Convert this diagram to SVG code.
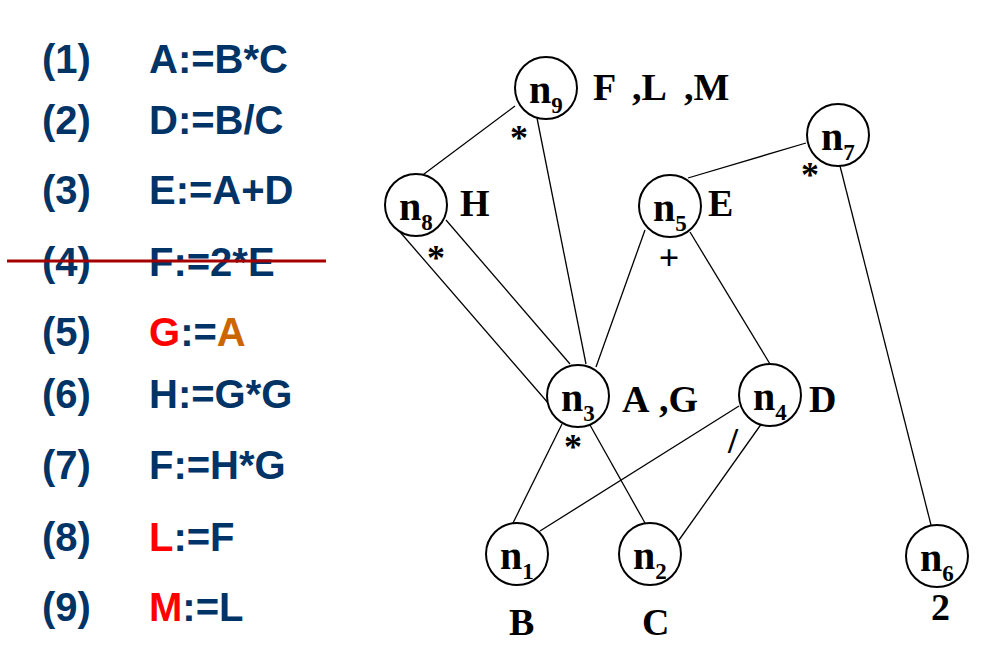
<svg xmlns="http://www.w3.org/2000/svg" width="997" height="672" viewBox="0 0 997 672">
<style>
.code{font-family:"Liberation Sans",Arial,sans-serif;font-weight:bold;font-size:40px;fill:#003366}
.red{fill:#FF0000}
.org{fill:#CC6600}
.nd{fill:#fff;stroke:#000;stroke-width:2}
.nl{font-family:"Liberation Serif","Times New Roman",serif;font-weight:bold;font-size:40px;fill:#000}
.sub{font-size:23px}
.lb{font-family:"Liberation Serif","Times New Roman",serif;font-weight:bold;font-size:38px;fill:#000}
.op{font-family:"Liberation Serif","Times New Roman",serif;font-weight:bold;font-size:36px;fill:#000;text-anchor:middle}
.e{stroke:#000;stroke-width:1.3;fill:none}
</style>
<rect width="997" height="672" fill="#fff"/>
<g id="code">
<text class="code" x="42" y="73">(1)</text><text class="code" x="149" y="73">A:=B*C</text>
<text class="code" x="42" y="134">(2)</text><text class="code" x="149" y="134">D:=B/C</text>
<text class="code" x="42" y="204">(3)</text><text class="code" x="149" y="204">E:=A+D</text>
<text class="code" x="42" y="276">(4)</text><text class="code" x="149" y="276">F:=2*E</text>
<text class="code" x="42" y="346">(5)</text><text class="code" x="149" y="346"><tspan class="red">G</tspan>:=<tspan class="org">A</tspan></text>
<text class="code" x="42" y="408">(6)</text><text class="code" x="149" y="408">H:=G*G</text>
<text class="code" x="42" y="479">(7)</text><text class="code" x="149" y="479">F:=H*G</text>
<text class="code" x="42" y="551">(8)</text><text class="code" x="149" y="551"><tspan class="red">L</tspan>:=F</text>
<text class="code" x="42" y="621">(9)</text><text class="code" x="149" y="621"><tspan class="red">M</tspan>:=L</text>
<line x1="7" y1="261" x2="326" y2="261" stroke="#A50000" stroke-width="3"/>
</g>
<g id="edges">
<line class="e" x1="515" y1="106" x2="420" y2="177"/>
<line class="e" x1="537" y1="118" x2="586" y2="364"/>
<line class="e" x1="400" y1="232" x2="549" y2="404"/>
<line class="e" x1="446" y1="220" x2="570" y2="364"/>
<line class="e" x1="645" y1="230" x2="596" y2="367"/>
<line class="e" x1="690" y1="232" x2="770" y2="364"/>
<line class="e" x1="806" y1="143" x2="688" y2="178"/>
<line class="e" x1="839" y1="162" x2="931" y2="525"/>
<line class="e" x1="562" y1="424" x2="513" y2="523"/>
<line class="e" x1="590" y1="425" x2="645" y2="523"/>
<line class="e" x1="739" y1="406" x2="540" y2="531"/>
<line class="e" x1="762" y1="423" x2="679" y2="540"/>
</g>
<g id="n9"><circle class="nd" cx="546" cy="88" r="31"/><text class="nl" x="529" y="103">n<tspan class="sub" dy="10">9</tspan></text><text class="lb" y="100"><tspan x="593">F</tspan><tspan x="632">,L</tspan><tspan x="684">,M</tspan></text></g>
<g id="n8"><circle class="nd" cx="416" cy="205" r="31"/><text class="nl" x="399" y="220">n<tspan class="sub" dy="10">8</tspan></text><text class="lb" x="460" y="216">H</text></g>
<g id="n5"><circle class="nd" cx="670" cy="206" r="31"/><text class="nl" x="653" y="221">n<tspan class="sub" dy="10">5</tspan></text><text class="lb" x="708" y="216">E</text></g>
<g id="n7"><circle class="nd" cx="838" cy="135" r="31"/><text class="nl" x="821" y="150">n<tspan class="sub" dy="10">7</tspan></text></g>
<g id="n3"><circle class="nd" cx="578" cy="396" r="31"/><text class="nl" x="561" y="411">n<tspan class="sub" dy="10">3</tspan></text><text class="lb" y="412"><tspan x="622">A</tspan><tspan x="659">,G</tspan></text></g>
<g id="n4"><circle class="nd" cx="770" cy="395" r="31"/><text class="nl" x="753" y="410">n<tspan class="sub" dy="10">4</tspan></text><text class="lb" x="809" y="412">D</text></g>
<g id="n1"><circle class="nd" cx="517" cy="554" r="31"/><text class="nl" x="500" y="569">n<tspan class="sub" dy="10">1</tspan></text><text class="lb" x="509" y="635">B</text></g>
<g id="n2"><circle class="nd" cx="650" cy="554" r="31"/><text class="nl" x="633" y="569">n<tspan class="sub" dy="10">2</tspan></text><text class="lb" x="642" y="635">C</text></g>
<g id="n6"><circle class="nd" cx="937" cy="556" r="31"/><text class="nl" x="920" y="571">n<tspan class="sub" dy="10">6</tspan></text><text class="lb" x="931" y="620">2</text></g>
<g id="ops">
<text class="op" x="519" y="150">*</text>
<text class="op" x="436" y="270">*</text>
<text class="op" x="810" y="187">*</text>
<text class="op" x="573" y="459">*</text>
<text class="op" x="669" y="270">+</text>
<text class="op" x="733" y="453">/</text>
</g>
</svg>
